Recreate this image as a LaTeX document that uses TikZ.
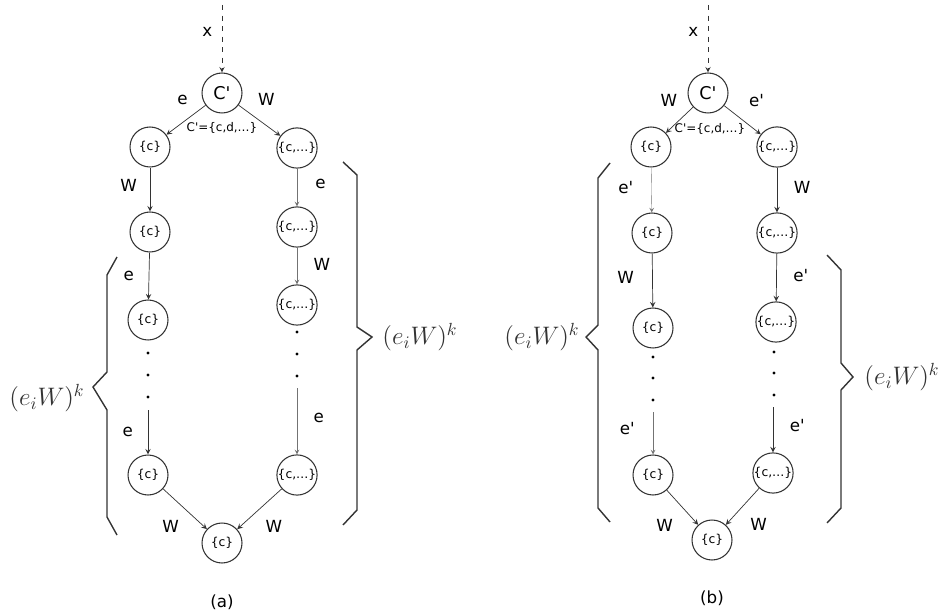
\documentclass[tikz,border=0pt]{standalone}
\usepackage{fontspec}
\setsansfont{DejaVu Sans}
\usepackage{tikz}
\usetikzlibrary{positioning}
\tikzstyle{state}=[
	circle,
	minimum size=0.8cm,
	inner sep=0pt,
	draw=black!80,
	line width=0.6pt,
	font=\sffamily\fontsize{7}{8}\selectfont
]
\tikzstyle{lbl}=[font=\sffamily\fontsize{9.5}{11}\selectfont]
\tikzstyle{faint}=[draw=black!55,very thin]
\tikzstyle{brace}=[-,draw=black!80,line width=0.8pt]
\newcommand{\qt}{\textquotesingle}

\begin{document}
\begin{tikzpicture}[x=0.02cm,y=-0.02cm,-stealth,thin,draw=black!80]
\useasboundingbox (0,0) rectangle (942,614);

%%%%%%%%%% (a) %%%%%%%%%%

% Start state
\node[state,font=\sffamily\normalsize] (Ca) at (222,93){C\qt};
\node[font=\sffamily\fontsize{6.8}{8}\selectfont] (seta) at (222,128){C\qt=\{c,d,\dots\}};
\coordinate (xa) at (222,5);
\draw[dashed] (xa) -- node[lbl,left=2pt,pos=0.4]{x} (Ca);

% Left branch
\node[state] (La1) at (150,147){\{c\}};
\node[state] (La2) at (150,232){\{c\}};
\node[state] (La3) at (148,320){\{c\}};
\node[state] (La4) at (148,475){\{c\}};
\coordinate (La5) at (148,410);

% Right branch
\node[state] (Ra1) at (297,148){\{c,\dots\}};
\node[state] (Ra2) at (297,227){\{c,\dots\}};
\node[state] (Ra3) at (297,305){\{c,\dots\}};
\node[state] (Ra4) at (297,475){\{c,\dots\}};
\coordinate (Ra5) at (297,388);

% Join state
\node[state] (Ba) at (222,543){\{c\}};

% Dots
\foreach \y in {353,375,397} \fill (148,\y) circle (1.6);
\foreach \y in {332,354,376} \fill (297,\y) circle (1.6);

% Transitions
\draw (Ca) -- node[lbl,above=5pt,xshift=-2pt]{e} (La1);
\draw (Ca) -- node[lbl,above=5pt,xshift=4pt]{W} (Ra1);
\draw (La1) -- node[lbl,left=4pt,pos=0.4]{W} (La2);
\draw (La2) -- node[lbl,left=5pt]{e} (La3);
\draw (La5) -- node[lbl,left=5pt]{e} (La4);
\draw (La4) -- node[lbl,below left=3pt and 0pt]{W} (Ba);
\draw[faint] (Ra1) -- node[lbl,right=7pt,pos=0.4]{e} (Ra2);
\draw[faint] (Ra2) -- node[lbl,right=6pt,pos=0.45]{W} (Ra3);
\draw[faint] (Ra5) -- node[lbl,right=6pt,pos=0.45]{e} (Ra4);
\draw (Ra4) -- node[lbl,below right=3pt and 0pt]{W} (Ba);

% Brackets
\draw[brace] (117,257) -- (107,275) -- (107,372) -- (93,387) -- (107,410) -- (107,517) -- (117,535);
\node[font=\Large,text=black!80] (ka) at (47,398){$(e_iW)^k$};
\draw[brace] (343,162) -- (357,175) -- (357,327) -- (372,337) -- (357,350) -- (357,510) -- (343,525);
\node[font=\Large,text=black!80] (kb) at (420,337){$(e_iW)^k$};

\node[lbl] (capa) at (222,602){(a)};

%%%%%%%%%% (b) %%%%%%%%%%

% Start state
\node[state,font=\sffamily\normalsize] (Cb) at (708,93){C\qt};
\node[font=\sffamily\fontsize{6.8}{8}\selectfont] (setb) at (710,129){C\qt=\{c,d,\dots\}};
\coordinate (xb) at (708,5);
\draw[dashed] (xb) -- node[lbl,left=2pt,pos=0.4]{x} (Cb);

% Left branch
\node[state] (Lb1) at (651,147){\{c\}};
\node[state] (Lb2) at (652,233){\{c\}};
\node[state] (Lb3) at (653,328){\{c\}};
\node[state] (Lb4) at (653,475){\{c\}};
\coordinate (Lb5) at (653,412);

% Right branch
\node[state] (Rb1) at (777,147){\{c,\dots\}};
\node[state] (Rb2) at (777,233){\{c,\dots\}};
\node[state] (Rb3) at (776,322){\{c,\dots\}};
\node[state] (Rb4) at (773,473){\{c,\dots\}};
\coordinate (Rb5) at (773,407);

% Join state
\node[state] (Bb) at (712,540){\{c\}};

% Dots
\foreach \y in {357,378,400} \fill (653,\y) circle (1.6);
\foreach \y in {352,373,395} \fill (774,\y) circle (1.6);

% Transitions
\draw (Cb) -- node[lbl,above=4pt,xshift=-6pt]{W} (Lb1);
\draw (Cb) -- node[lbl,above=4pt,xshift=8pt]{e\qt} (Rb1);
\draw[faint] (Lb1) -- node[lbl,left=7pt,pos=0.45]{e\qt} (Lb2);
\draw (Lb2) -- node[lbl,left=7pt,pos=0.45]{W} (Lb3);
\draw[faint] (Lb5) -- node[lbl,left=7pt,pos=0.4]{e\qt} (Lb4);
\draw (Lb4) -- node[lbl,below left=3pt and 2pt]{W} (Bb);
\draw (Rb1) -- node[lbl,right=6pt,pos=0.45]{W} (Rb2);
\draw (Rb2) -- node[lbl,right=6pt,pos=0.45]{e\qt} (Rb3);
\draw (Rb5) -- node[lbl,right=6pt,pos=0.4]{e\qt} (Rb4);
\draw (Rb4) -- node[lbl,below right=3pt and 1pt]{W} (Bb);

% Brackets
\draw[brace] (610,163) -- (598,178) -- (598,325) -- (586,337) -- (598,350) -- (598,508) -- (610,522);
\node[font=\Large,text=black!80] (kc) at (542,337){$(e_iW)^k$};
\draw[brace] (827,255) -- (841,270) -- (841,363) -- (853,377) -- (841,390) -- (841,508) -- (827,523);
\node[font=\Large,text=black!80] (kd) at (902,377){$(e_iW)^k$};

\node[lbl] (capb) at (712,598){(b)};

\end{tikzpicture}
\end{document}
